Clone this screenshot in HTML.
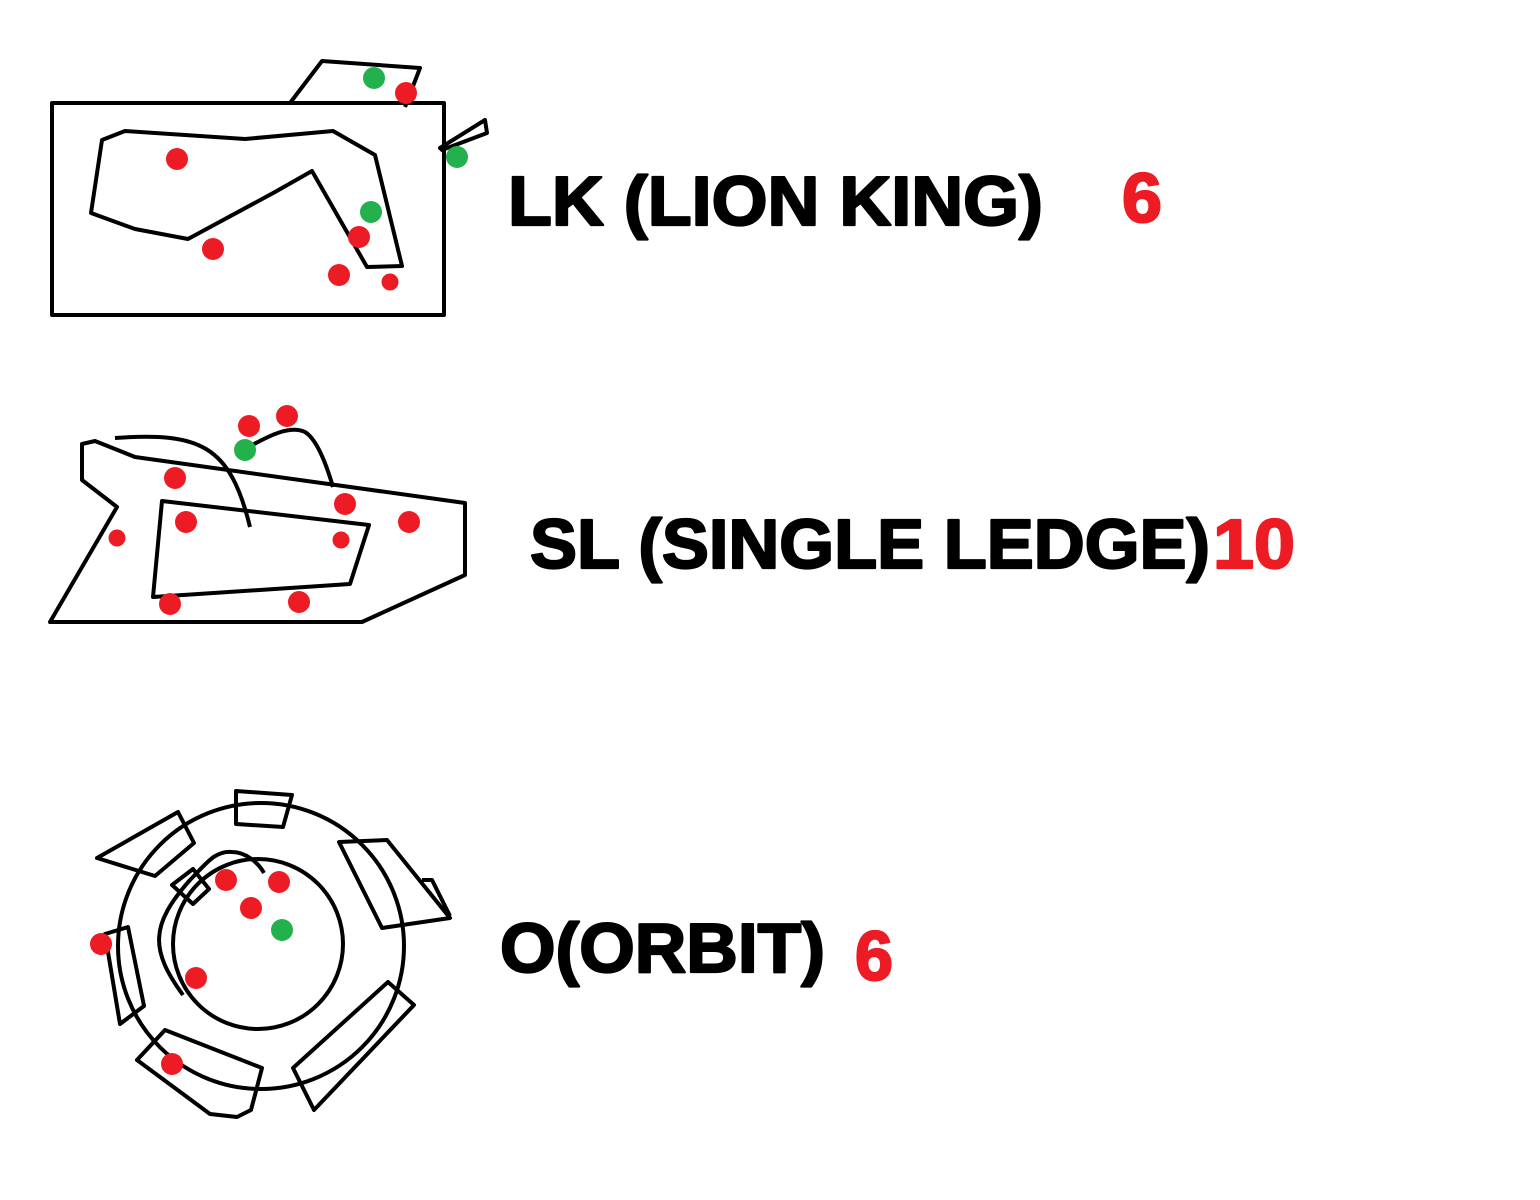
<!DOCTYPE html>
<html><head><meta charset="utf-8"><style>
html,body{margin:0;padding:0;background:#fff;width:1540px;height:1200px;overflow:hidden}
svg{display:block}
.t{font-family:"Liberation Sans",sans-serif;font-weight:bold;font-size:70px;stroke-width:2.2;stroke-linejoin:round}
</style></head><body>
<svg id="chart" width="1540" height="1200" viewBox="0 0 1540 1200">
<g fill="none" stroke="#000" stroke-width="4" stroke-linejoin="round">
 <g>
  <rect x="52" y="103" width="392" height="212"/>
  <polyline points="290,103 322,61 420,68 405,107"/>
  <polygon points="440,148 485,120 487,133 442,150"/>
  <polygon points="102,140 125,131 245,139 333,131 375,155 402,266 367,267 312,171 275,192 188,239 135,229 91,213"/>
 </g>
 <g>
  <polygon points="82,444 95,441 135,457 465,503 465,575 362,622 50,622 117,507 82,480"/>
  <polygon points="162,501 369,525 350,584 153,597"/>
  <path d="M115,438 C200,432 230,445 250,527"/>
  <path d="M245,449 C270,435 290,425 305,432 C318,440 328,470 333,487"/>
 </g>
 <g>
  <circle cx="261" cy="946" r="143"/>
  <circle cx="258" cy="944" r="85"/>
  <polygon points="236,791 292,795 283,827 236,824"/>
  <polygon points="97,858 178,812 194,843 155,876"/>
  <polygon points="339,842 387,840 450,918 382,928"/>
  <polyline points="422,880 432,880 450,916"/>
  <polygon points="293,1068 388,982 414,1005 314,1110"/>
  <polygon points="137,1060 165,1030 262,1068 251,1110 237,1117 210,1114"/>
  <polygon points="105,934 128,927 144,1006 120,1024"/>
  <polygon points="172,885 193,869 209,889 193,904"/>
  <path d="M183,995 C150,950 150,925 190,880 C205,865 215,850 232,852 C245,852 258,862 264,873"/>
 </g>
</g>
<g id="dots"></g>
<g stroke="#000">
 <text class="t" x="508" y="225" textLength="535" lengthAdjust="spacingAndGlyphs">LK (LION KING)</text>
 <text class="t" x="530" y="568" textLength="680" lengthAdjust="spacingAndGlyphs">SL (SINGLE LEDGE)</text>
 <text class="t" x="500" y="972" textLength="325" lengthAdjust="spacingAndGlyphs">O(ORBIT)</text>
</g>
<g id="counts"></g>
</svg>
<script>
const stageNames = ["LK", "SL", "O"];
const stageCounts = [6, 10, 6];
const redDots = [[406,93],[177,159],[359,237],[213,249],[339,275],[390,282],
 [249,426],[287,416],[175,478],[345,504],[409,522],[186,522],[117,538],[341,540],[170,604],[299,602],
 [226,880],[279,882],[251,908],[101,944],[196,978],[172,1064]];
const greenDots = [[374,78],[457,157],[371,212],[245,450],[282,930]];
const NS = "http://www.w3.org/2000/svg";
const dg = document.getElementById("dots");
function dot(p, col, i, kind){
  const c = document.createElementNS(NS, "circle");
  c.setAttribute("cx", p[0]); c.setAttribute("cy", p[1]);
  const small = (kind==="red" && (i===5 || i===12 || i===13));
  c.setAttribute("r", small ? 8.5 : 11);
  c.setAttribute("fill", col);
  
  
  dg.appendChild(c);
}
redDots.forEach((p,i)=>dot(p,"#ed1c24",i,"red"));
greenDots.forEach((p,i)=>dot(p,"#22b14c",i,"green"));
const countPos = [[1122,222,40],[1213,568,82],[855,980,38]];
const cg = document.getElementById("counts");
stageCounts.forEach((v,i)=>{
  const t = document.createElementNS(NS, "text");
  t.setAttribute("class","t");
  t.setAttribute("x", countPos[i][0]); t.setAttribute("y", countPos[i][1]);
  t.setAttribute("textLength", countPos[i][2]);
  t.setAttribute("lengthAdjust","spacingAndGlyphs");
  t.setAttribute("fill","#ed1c24");
  t.setAttribute("stroke","#ed1c24");
  t.textContent = String(v);
  
  
  cg.appendChild(t);
});
</script>
</body></html>
